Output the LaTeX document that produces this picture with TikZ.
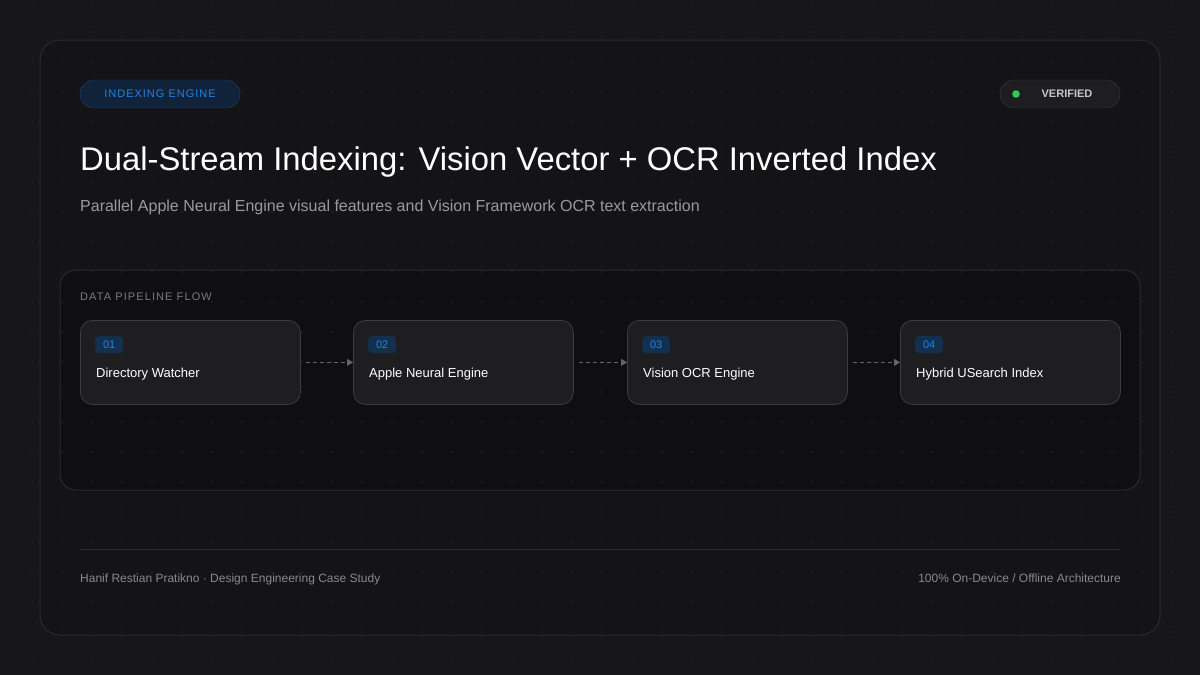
\documentclass[tikz,border=0pt]{standalone}
\usepackage{fontspec}
\setmainfont{Liberation Sans}
\usetikzlibrary{arrows.meta}
\definecolor{pagebg}{HTML}{17171A}
\definecolor{cardbg}{HTML}{141416}
\definecolor{cardline}{HTML}{2B2B2E}
\definecolor{panelbg}{HTML}{0F0F11}
\definecolor{boxbg}{HTML}{1E1E20}
\definecolor{boxline}{HTML}{3C3C40}
\definecolor{accent}{HTML}{2183E6}
\definecolor{tagbg}{HTML}{13304F}
\definecolor{pillbg}{HTML}{10233A}
\definecolor{pillline}{HTML}{1F4670}
\definecolor{okgreen}{HTML}{2ECC55}
\definecolor{subtext}{HTML}{9A9A9E}
\definecolor{foottext}{HTML}{8A8A8E}
\definecolor{dotcol}{HTML}{2A2A2F}
\begin{document}
\begin{tikzpicture}[x=1pt,y=-1pt,
    stage/.style={draw=boxline,line width=0.8pt,fill=boxbg,rounded corners=12pt,
        minimum width=220pt,minimum height=84pt,anchor=north west},
    numtag/.style={fill=tagbg,rounded corners=4pt,text=accent,font=\fontsize{11}{12}\selectfont,
        minimum width=28pt,minimum height=17pt,inner sep=0pt,anchor=north west},
    stagename/.style={text=white,font=\fontsize{13}{15}\selectfont,anchor=west,inner sep=0pt},
    flow/.style={draw=white!40!black,line width=1pt,dash pattern=on 4pt off 3pt,
        -{Triangle[length=6pt,width=7pt]}}]
    \fill[pagebg] (0,0) rectangle (1200,675);
    \draw[cardline,line width=1pt,fill=cardbg,rounded corners=20pt] (40,40) rectangle (1160,635);
    \draw[cardline,line width=1pt,fill=panelbg,rounded corners=16pt] (60,270) rectangle (1140,490);
    \foreach \i in {0,...,39}
        \foreach \j in {0,...,22}
            \fill[dotcol] (30*\i+2,30*\j+2) circle (0.9);
    % header
    \node[draw=pillline,fill=pillbg,rounded corners=14pt,minimum width=160pt,minimum height=28pt,
        text=accent,font=\fontsize{11}{12}\selectfont\addfontfeature{LetterSpace=9}] (badge) at (160,94) {INDEXING ENGINE};
    \node[draw=boxline,fill=boxbg,rounded corners=14pt,minimum width=120pt,minimum height=28pt] (verified) at (1060,94) {};
    \fill[okgreen] (1016,94) circle (3.8pt);
    \node[text=white!78!black,font=\fontsize{11}{12}\selectfont\bfseries] (vtext) at (1067,94) {VERIFIED};
    \node[anchor=base west,inner sep=0pt,text=white,font=\fontsize{32.8}{38}\selectfont] (title) at (80,170)
        {Dual-Stream Indexing: Vision Vector + OCR Inverted Index};
    \node[anchor=base west,inner sep=0pt,text=subtext,font=\fontsize{16}{19}\selectfont] (subtitle) at (80,211)
        {Parallel Apple Neural Engine visual features and Vision Framework OCR text extraction};
    % pipeline
    \node[anchor=base west,inner sep=0pt,text=white!48!black,font=\fontsize{11}{12}\selectfont\addfontfeature{LetterSpace=10}] (flowlabel) at (80,300) {DATA PIPELINE FLOW};
    \node[stage] (s1) at (80,320) {};
    \node[stage] (s2) at (353,320) {};
    \node[stage] (s3) at (627,320) {};
    \node[stage] (s4) at (900,320) {};
    \node[numtag] (n1) at (95,336) {01};
    \node[numtag] (n2) at (368,336) {02};
    \node[numtag] (n3) at (642,336) {03};
    \node[numtag] (n4) at (915,336) {04};
    \node[stagename] (l1) at (96,374) {Directory Watcher};
    \node[stagename] (l2) at (369,374) {Apple Neural Engine};
    \node[stagename] (l3) at (643,374) {Vision OCR Engine};
    \node[stagename] (l4) at (916,374) {Hybrid USearch Index};
    \draw[flow] ([xshift=5pt]s1.east) -- (s2.west);
    \draw[flow] ([xshift=5pt]s2.east) -- (s3.west);
    \draw[flow] ([xshift=5pt]s3.east) -- (s4.west);
    % footer
    \draw[cardline,line width=1pt] (80,549) -- (1120,549);
    \node[anchor=base west,inner sep=0pt,text=foottext,font=\fontsize{12}{14}\selectfont] (author) at (80,582)
        {Hanif Restian Pratikno · Design Engineering Case Study};
    \node[anchor=base east,inner sep=0pt,text=foottext,font=\fontsize{12}{14}\selectfont] (offline) at (1121,582)
        {100\% On-Device / Offline Architecture};
\end{tikzpicture}
\end{document}
